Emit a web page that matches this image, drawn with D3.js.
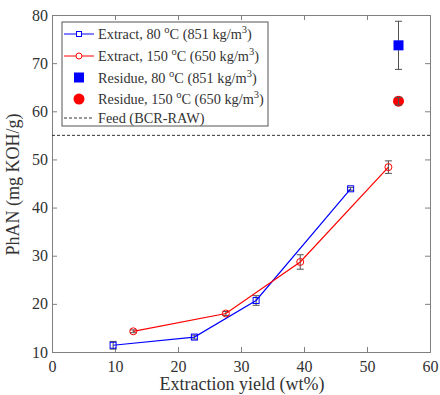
<!DOCTYPE html>
<html>
<head>
<meta charset="utf-8">
<script src="https://cdn.jsdelivr.net/npm/d3@7"></script>
<style>
  body { margin: 0; background: #fff; }
  svg { display: block; font-family: "Liberation Serif", "Times New Roman", serif; }
  svg text { font-family: "Liberation Serif", "Times New Roman", serif; }
</style>
</head>
<body>
<svg id="chart" width="440" height="395"></svg>
<script>
// Extract series: extraction yield (wt%), PhAN (mg KOH/g), error
const extract80Yield = [9.7, 22.6, 32.4, 47.4];
const extract80PhAN  = [11.4, 13.1, 20.7, 43.9];
const extract80Err   = [0.8, 0.4, 1.0, 0.3];

const extract150Yield = [12.9, 27.6, 39.4, 53.4];
const extract150PhAN  = [14.3, 18.0, 28.7, 48.4];
const extract150Err   = [0.3, 0.4, 1.5, 1.3];

// Residues
const residue80  = { yield: 55.0, phan: 73.7, err: 5.0 };
const residue150 = { yield: 55.0, phan: 62.1, err: 0.8 };

// Feed reference line
const feedPhAN = 55;

const xTicks = [0, 10, 20, 30, 40, 50, 60];
const yTicks = [10, 20, 30, 40, 50, 60, 70, 80];

const legendLabels = [
  ["Extract, 80 ", "C (851 kg/m", ")"],
  ["Extract, 150 ", "C (650 kg/m", ")"],
  ["Residue, 80 ", "C (851 kg/m", ")"],
  ["Residue, 150 ", "C (650 kg/m", ")"],
  ["Feed (BCR-RAW)"]
];

const BLUE = "#0000ff", RED = "#ff0000", AXIS = "#808080", ERR = "#505050";
const SERIF = "'Liberation Serif', 'Times New Roman', serif";

const svg = d3.select("#chart");
const m = { left: 52, right: 430, top: 15, bottom: 352 };

const x = d3.scaleLinear().domain([0, 60]).range([m.left, m.right]);
const y = d3.scaleLinear().domain([10, 80]).range([m.bottom, m.top]);

// Frame with inward ticks on all sides
const axes = svg.append("g");
axes.append("g").attr("transform", `translate(0,${m.bottom})`)
  .call(d3.axisBottom(x).tickValues(xTicks).tickSize(-5).tickPadding(9).tickFormat(d3.format("d")));
axes.append("g").attr("transform", `translate(0,${m.top})`)
  .call(d3.axisTop(x).tickValues(xTicks).tickSize(-5).tickFormat(""));
axes.append("g").attr("transform", `translate(${m.left},0)`)
  .call(d3.axisLeft(y).tickValues(yTicks).tickSize(-5).tickPadding(4).tickFormat(d3.format("d")));
axes.append("g").attr("transform", `translate(${m.right},0)`)
  .call(d3.axisRight(y).tickValues(yTicks).tickSize(-5).tickFormat(""));
axes.selectAll("g").attr("font-family", SERIF).attr("font-size", 16);
axes.selectAll(".domain, .tick line").attr("stroke", AXIS).attr("stroke-width", 1);
axes.selectAll(".tick text").attr("fill", "#333").attr("font-family", SERIF).attr("font-size", 16);

// Axis titles
svg.append("text").attr("x", (m.left + m.right) / 2 + 1).attr("y", 390)
  .attr("text-anchor", "middle").attr("fill", "#333").attr("font-size", 18)
  .text("Extraction yield (wt%)");
svg.append("text").attr("transform", `translate(19,${(m.top + m.bottom) / 2 + 1}) rotate(-90)`)
  .attr("text-anchor", "middle").attr("fill", "#333").attr("font-size", 18)
  .text("PhAN (mg KOH/g)");

// Feed line
svg.append("line").attr("x1", m.left).attr("x2", m.right)
  .attr("y1", y(feedPhAN)).attr("y2", y(feedPhAN))
  .attr("stroke", "#333").attr("stroke-width", 1).attr("stroke-dasharray", "3,2");

function errorBars(xs, ys, es) {
  const g = svg.append("g").attr("stroke", ERR).attr("stroke-width", 1);
  xs.forEach((xv, i) => {
    const cx = x(xv), lo = y(ys[i] - es[i]), hi = y(ys[i] + es[i]);
    g.append("line").attr("x1", cx).attr("x2", cx).attr("y1", lo).attr("y2", hi);
    g.append("line").attr("x1", cx - 3.5).attr("x2", cx + 3.5).attr("y1", lo).attr("y2", lo);
    g.append("line").attr("x1", cx - 3.5).attr("x2", cx + 3.5).attr("y1", hi).attr("y2", hi);
  });
}

const line = d3.line().x(d => x(d[0])).y(d => y(d[1]));

// Extract 80 °C
errorBars(extract80Yield, extract80PhAN, extract80Err);
const e80 = extract80Yield.map((v, i) => [v, extract80PhAN[i]]);
svg.append("path").datum(e80).attr("d", line).attr("fill", "none")
  .attr("stroke", BLUE).attr("stroke-width", 1.2);
svg.append("g").selectAll("rect").data(e80).join("rect")
  .attr("x", d => x(d[0]) - 3).attr("y", d => y(d[1]) - 3)
  .attr("width", 6).attr("height", 6)
  .attr("fill", "none").attr("stroke", BLUE).attr("stroke-width", 1);

// Extract 150 °C
errorBars(extract150Yield, extract150PhAN, extract150Err);
const e150 = extract150Yield.map((v, i) => [v, extract150PhAN[i]]);
svg.append("path").datum(e150).attr("d", line).attr("fill", "none")
  .attr("stroke", RED).attr("stroke-width", 1.2);
svg.append("g").selectAll("circle").data(e150).join("circle")
  .attr("cx", d => x(d[0])).attr("cy", d => y(d[1])).attr("r", 3.5)
  .attr("fill", "none").attr("stroke", RED).attr("stroke-width", 1);

// Residues
errorBars([residue80.yield], [residue80.phan], [residue80.err]);
svg.append("rect").attr("x", x(residue80.yield) - 5).attr("y", y(residue80.phan) - 5)
  .attr("width", 10).attr("height", 10).attr("fill", BLUE);
svg.append("circle").attr("cx", x(residue150.yield)).attr("cy", y(residue150.phan))
  .attr("r", 5.5).attr("fill", RED);
errorBars([residue150.yield], [residue150.phan], [residue150.err]);

// Legend
const lg = svg.append("g");
lg.append("rect").attr("x", 62).attr("y", 22).attr("width", 206).attr("height", 104)
  .attr("fill", "#fff").attr("stroke", "#555").attr("stroke-width", 1);
const rowY = [34, 56, 77.5, 99, 118];
legendLabels.forEach((parts, i) => {
  const yy = rowY[i];
  if (i === 0 || i === 1) {
    const c = i === 0 ? BLUE : RED;
    lg.append("line").attr("x1", 64).attr("x2", 94).attr("y1", yy).attr("y2", yy)
      .attr("stroke", c).attr("stroke-width", 1);
    if (i === 0) lg.append("rect").attr("x", 76.5).attr("y", yy - 2.5).attr("width", 5).attr("height", 5)
      .attr("fill", "#fff").attr("stroke", c);
    else lg.append("circle").attr("cx", 79).attr("cy", yy).attr("r", 3)
      .attr("fill", "#fff").attr("stroke", c);
  } else if (i === 2) {
    lg.append("rect").attr("x", 74).attr("y", yy - 5).attr("width", 10).attr("height", 10).attr("fill", BLUE);
  } else if (i === 3) {
    lg.append("circle").attr("cx", 79).attr("cy", yy).attr("r", 5.5).attr("fill", RED);
  } else {
    lg.append("line").attr("x1", 64).attr("x2", 94).attr("y1", yy).attr("y2", yy)
      .attr("stroke", "#333").attr("stroke-dasharray", "3,2");
  }
  const t = lg.append("text").attr("x", 98).attr("y", yy + 5)
    .attr("fill", "#333").attr("font-size", 14.3);
  if (parts.length === 1) {
    t.text(parts[0]);
  } else {
    t.append("tspan").text(parts[0]);
    t.append("tspan").attr("dy", -6).attr("font-size", 10.5).text("o");
    t.append("tspan").attr("dy", 6).text(parts[1]);
    t.append("tspan").attr("dy", -6).attr("font-size", 10.5).text("3");
    t.append("tspan").attr("dy", 6).text(parts[2]);
  }
});
</script>
</body>
</html>
